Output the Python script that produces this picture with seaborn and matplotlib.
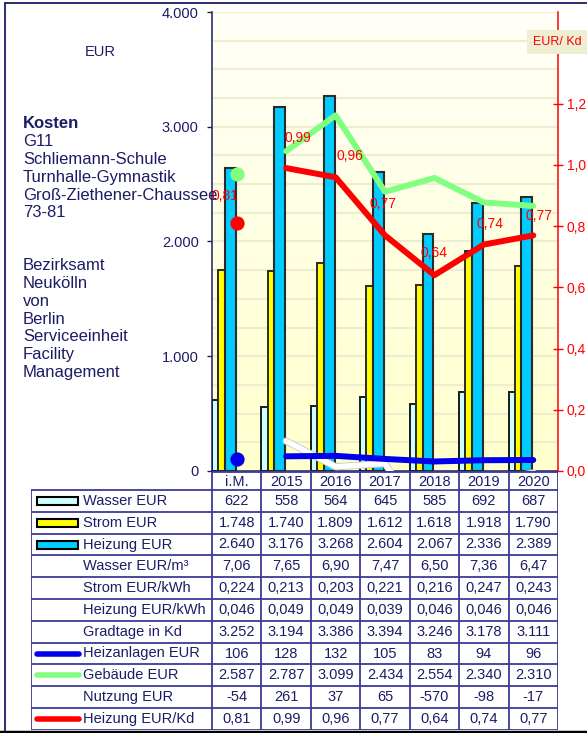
import numpy as np
import matplotlib
matplotlib.use("Agg")
import matplotlib.pyplot as plt
import matplotlib.patheffects as pe
from matplotlib.colors import LinearSegmentedColormap
from matplotlib.lines import Line2D
from matplotlib.patches import Rectangle
import seaborn as sns

# --- data ---
categories = ["i.M.", "2015", "2016", "2017", "2018", "2019", "2020"]
wasser_eur = [622, 558, 564, 645, 585, 692, 687]
strom_eur = [1748, 1740, 1809, 1612, 1618, 1918, 1790]
heizung_eur = [2640, 3176, 3268, 2604, 2067, 2336, 2389]
wasser_eur_m3 = [7.06, 7.65, 6.90, 7.47, 6.50, 7.36, 6.47]
strom_eur_kwh = [0.224, 0.213, 0.203, 0.221, 0.216, 0.247, 0.243]
heizung_eur_kwh = [0.046, 0.049, 0.049, 0.039, 0.046, 0.046, 0.046]
gradtage_kd = [3252, 3194, 3386, 3394, 3246, 3178, 3111]
heizanlagen_eur = [106, 128, 132, 105, 83, 94, 96]
gebaeude_eur = [2587, 2787, 3099, 2434, 2554, 2340, 2310]
nutzung_eur = [-54, 261, 37, 65, -570, -98, -17]
heizung_eur_kd = [0.81, 0.99, 0.96, 0.77, 0.64, 0.74, 0.77]

title_bold = "Kosten"
title_lines = ["G11", "Schliemann-Schule", "Turnhalle-Gymnastik",
               "Groß-Ziethener-Chaussee", "73-81", "", "",
               "Bezirksamt", "Neukölln", "von", "Berlin",
               "Serviceeinheit", "Facility", "Management"]

# --- style ---
NAVY = "#1c1c66"
GRIDC = "#3a3a98"
C_WASSER, C_STROM, C_HEIZ = "#ccffff", "#ffff00", "#00ccff"
C_BLUE, C_GREEN, C_RED = "#0000ee", "#80ff80", "#ff0000"
# red value label offsets (px, image coords)
label_off = [(-12, -27), (12, -30), (14, -21), (-2, -31), (0, -22), (6, -21), (6, -19)]

sns.set_theme(style="white")
plt.rcParams["font.family"] = ["Liberation Sans", "DejaVu Sans"]

W, H = 587, 733
fig = plt.figure(figsize=(W / 100, H / 100), dpi=100)
fig.patch.set_facecolor("white")


def fx(px):
    return px / W


def fy(py):
    return 1 - py / H


X0, X1, Y0, Y1 = 212, 558, 12, 471
ax = fig.add_axes([fx(X0), fy(Y1), (X1 - X0) / W, (Y1 - Y0) / H])
ax.set_xlim(-0.5, 6.5)
ax.set_ylim(0, 4000)

# background gradient
grad = np.linspace(0, 1, 256).reshape(-1, 1)
cmap = LinearSegmentedColormap.from_list("bg", ["#ffffcc", "#fffff8"])
ax.imshow(grad, extent=(-0.5, 6.5, 0, 4000), origin="lower", aspect="auto",
          cmap=cmap, zorder=0)
for y in np.arange(250, 4001, 250):
    ax.axhline(y, color="#ededd0", lw=1.6, zorder=1)

x = np.arange(len(categories))
ax.bar(x - 0.5, wasser_eur, width=0.125, align="edge", color=C_WASSER,
       edgecolor="#1a1a1a", lw=1.4, zorder=2)
ax.bar(x - 0.375, strom_eur, width=0.135, align="edge", color=C_STROM,
       edgecolor="#2a2a2a", lw=1.4, zorder=2)
ax.bar(x - 0.24, heizung_eur, width=0.22, align="edge", color=C_HEIZ,
       edgecolor="#2a2a2a", lw=1.5, zorder=3)

# lines on the EUR axis (i.M. shown as a dot)
sns.lineplot(x=x[1:], y=nutzung_eur[1:], ax=ax, color="white", linewidth=3.8,
             zorder=4, path_effects=[pe.Stroke(linewidth=5.2, foreground="#cfcfcf"), pe.Normal()])
sns.lineplot(x=x[1:], y=heizanlagen_eur[1:], ax=ax, color=C_BLUE, linewidth=4.3, zorder=5)
sns.lineplot(x=x[1:], y=gebaeude_eur[1:], ax=ax, color=C_GREEN, linewidth=4.3, zorder=5)
ax.scatter([0], [heizanlagen_eur[0]], s=105, color=C_BLUE, zorder=6, linewidths=0)
ax.scatter([0], [gebaeude_eur[0]], s=105, color=C_GREEN, zorder=6, linewidths=0)

ax.set_xticks([])
ax.set_yticks([0, 1000, 2000, 3000, 4000])
ax.set_yticklabels(["0", "1.000", "2.000", "3.000", "4.000"])
ax.tick_params(axis="y", direction="out", length=3.6, width=1, color=NAVY,
               labelcolor=NAVY, labelsize=10.5, pad=6, left=True)
ax.set_xlabel("")
ax.set_ylabel("")
for s in ["top", "right"]:
    ax.spines[s].set_visible(False)
for s in ["left", "bottom"]:
    ax.spines[s].set_color(NAVY)
    ax.spines[s].set_linewidth(1.1)

# right axis EUR/Kd
ax2 = ax.twinx()
ax2.set_ylim(0, 1.5)
sns.lineplot(x=x[1:], y=heizung_eur_kd[1:], ax=ax2, color=C_RED, linewidth=4.3, zorder=5)
ax2.scatter([0], [heizung_eur_kd[0]], s=105, color=C_RED, zorder=6, linewidths=0)
for i, v in enumerate(heizung_eur_kd):
    dx, dy = label_off[i]
    ax2.annotate(f"{v:.2f}".replace(".", ","), (i, v), xytext=(dx * 0.72, -dy * 0.72),
                 textcoords="offset points", ha="center", va="center",
                 color=C_RED, fontsize=10, zorder=7)
rt = [0, 0.2, 0.4, 0.6, 0.8, 1.0, 1.2]
ax2.set_yticks(rt)
ax2.set_yticklabels([f"{t:.1f}".replace(".", ",") for t in rt])
ax2.tick_params(axis="y", direction="inout", length=6.5, width=1, color=C_RED,
                labelcolor=C_RED, labelsize=10, pad=3, right=True)
ax2.set_ylabel("")
for s in ["top", "left", "bottom"]:
    ax2.spines[s].set_visible(False)
ax2.spines["right"].set_color(C_RED)
ax2.spines["right"].set_linewidth(1.1)

fig.text(fx(533), fy(42), "EUR/ Kd", color=C_RED, fontsize=9, ha="left", va="center",
         bbox=dict(boxstyle="square,pad=0.45", facecolor="#eeeed2", edgecolor="none"))
fig.text(fx(100), fy(52), "EUR", color=NAVY, fontsize=10.5, ha="center", va="center")

# left text block
fig.text(fx(23), fy(124), title_bold, color=NAVY, fontsize=12, fontweight="bold",
         ha="left", va="center")
for k, line in enumerate(title_lines):
    fig.text(fx(23), fy(124 + 17.75 * (k + 1)), line, color=NAVY, fontsize=12,
             ha="left", va="center")

# --- data table below the chart ---
TL, TB = 31, 730
cw = (X1 - X0) / len(categories)
x_left = -0.5 - (X0 - TL) / cw
tax = fig.add_axes([fx(TL), fy(TB), (X1 - TL) / W, (TB - Y1) / H])
tax.set_xlim(x_left, 6.5)
tax.set_ylim(TB - Y1, 0)
tax.axis("off")

HH, RH = 19, 21.8


def fmt_int(v):
    return f"{v:,}".replace(",", ".")


def fmt_dec(v, n):
    return f"{v:.{n}f}".replace(".", ",")


rows = [
    ("Wasser EUR", [fmt_int(v) for v in wasser_eur], ("bar", C_WASSER)),
    ("Strom EUR", [fmt_int(v) for v in strom_eur], ("bar", C_STROM)),
    ("Heizung EUR", [fmt_int(v) for v in heizung_eur], ("bar", C_HEIZ)),
    ("Wasser EUR/m³", [fmt_dec(v, 2) for v in wasser_eur_m3], None),
    ("Strom EUR/kWh", [fmt_dec(v, 3) for v in strom_eur_kwh], None),
    ("Heizung EUR/kWh", [fmt_dec(v, 3) for v in heizung_eur_kwh], None),
    ("Gradtage in Kd", [fmt_int(v) for v in gradtage_kd], None),
    ("Heizanlagen EUR", [fmt_int(v) for v in heizanlagen_eur], ("line", C_BLUE)),
    ("Gebäude EUR", [fmt_int(v) for v in gebaeude_eur], ("line", C_GREEN)),
    ("Nutzung EUR", [fmt_int(v) for v in nutzung_eur], None),
    ("Heizung EUR/Kd", [fmt_dec(v, 2) for v in heizung_eur_kd], ("line", C_RED)),
]

tkw = dict(color=GRIDC, lw=1.3, solid_capstyle="butt")
tax.plot([-0.5, 6.5], [0.5, 0.5], **tkw)
for r in range(len(rows) + 1):
    yb = HH + r * RH
    tax.plot([x_left, 6.5], [yb, yb], **tkw)
tax.plot([x_left, x_left], [HH, HH + len(rows) * RH], **tkw)
for k in range(len(categories) + 1):
    tax.plot([k - 0.5, k - 0.5], [0.5, HH + len(rows) * RH], **tkw)

for i, c in enumerate(categories):
    tax.text(i, HH / 2 + 1, c, ha="center", va="center", color=NAVY, fontsize=10.5)


def px2x(px):
    return x_left + (px - TL) / cw


for r, (label, vals, sw) in enumerate(rows):
    yc = HH + (r + 0.5) * RH
    tax.text(px2x(83), yc, label, ha="left", va="center", color=NAVY, fontsize=10.5)
    for i, v in enumerate(vals):
        tax.text(i, yc, v, ha="center", va="center", color=NAVY, fontsize=10.5)
    if sw is not None:
        kind, col = sw
        if kind == "bar":
            tax.add_patch(Rectangle((px2x(37), yc - 4), px2x(78) - px2x(37), 8,
                                    facecolor=col, edgecolor="black", lw=1.5))
        else:
            tax.plot([px2x(37), px2x(79)], [yc, yc], color=col, lw=4,
                     solid_capstyle="round")

# outer frame
fig.add_artist(Line2D([fx(5), 1], [fy(3), fy(3)], color=NAVY, lw=1.3, transform=fig.transFigure))
fig.add_artist(Line2D([fx(5), fx(5)], [fy(3), 0], color=NAVY, lw=1.3, transform=fig.transFigure))
fig.add_artist(Line2D([0, 1], [fy(731.5), fy(731.5)], color="black", lw=2.5, transform=fig.transFigure))

fig.savefig("out.png", dpi=100)
